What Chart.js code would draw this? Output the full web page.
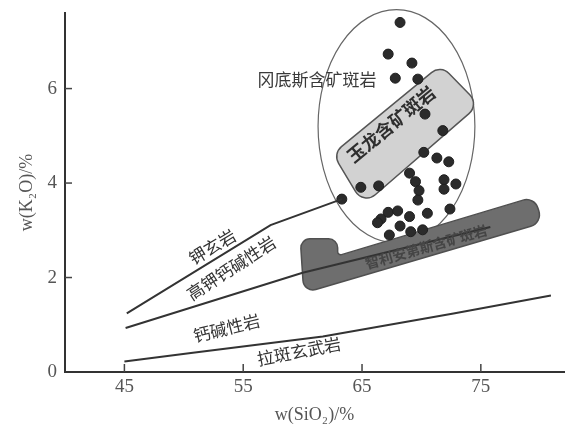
<!DOCTYPE html>
<html>
<head>
<meta charset="utf-8">
<script src="https://cdn.jsdelivr.net/npm/chart.js@4/dist/chart.umd.min.js"></script>
<style>
  body { margin: 0; background: #fff; }
  #k2oChart { display: block; }
</style>
</head>
<body>
<canvas id="k2oChart" width="570" height="430"></canvas>
<script>
// sample points, w(SiO2) / w(K2O)
var siO2 = [68.2, 67.2, 69.2, 67.8, 69.7, 70.3, 71.8, 70.2, 71.3, 72.3,
            69.0, 69.5, 71.9, 72.9, 64.9, 66.4, 69.8, 71.9, 69.7, 63.3,
            72.4, 70.5, 67.2, 68.0, 66.6, 66.3, 69.0, 68.2, 67.3, 69.1, 70.1];
var k2O  = [7.40, 6.73, 6.54, 6.22, 6.20, 5.46, 5.11, 4.65, 4.53, 4.45,
            4.21, 4.03, 4.07, 3.98, 3.91, 3.94, 3.84, 3.87, 3.64, 3.66,
            3.45, 3.36, 3.38, 3.41, 3.24, 3.16, 3.29, 3.09, 2.90, 2.97, 3.01];

// boundary lines
var shoshoniteX = [45.2, 57.3, 63.3];
var shoshoniteY = [1.24, 3.11, 3.66];
var highKX = [45.1, 60.0, 75.8];
var highKY = [0.93, 2.10, 3.07];
var tholeiiteX = [45.0, 50.6, 61.7, 72.7, 80.9];
var tholeiiteY = [0.22, 0.40, 0.75, 1.24, 1.62];

// fields
var gangdeseCenter = [67.9, 5.2];
var gangdeseRadius = [6.6, 2.47];
var yulongX = [62.54, 71.62, 74.88, 65.13];
var yulongY = [4.62, 6.50, 5.66, 3.54];
var andesX = [59.8, 62.95, 62.95, 79.5, 80.2, 60.1];
var andesY = [2.82, 2.82, 2.46, 3.71, 3.16, 1.67];

var xTicks = [45, 55, 65, 75];
var yTicks = [0, 2, 4, 6];

function pairs(xs, ys) {
  return xs.map(function(x, i) { return {x: x, y: ys[i]}; });
}

function roundedPoly(ctx, pts, radii) {
  var n = pts.length;
  var start = {x: (pts[n - 1].x + pts[0].x) / 2, y: (pts[n - 1].y + pts[0].y) / 2};
  ctx.beginPath();
  ctx.moveTo(start.x, start.y);
  for (var i = 0; i < n; i++) {
    var p = pts[i], q = pts[(i + 1) % n];
    ctx.arcTo(p.x, p.y, q.x, q.y, radii[i]);
  }
  ctx.closePath();
}

var labels = [
  {text: '冈底斯含矿斑岩', x: 61.2, y: 6.19, angle: 0, size: 17, color: '#3a3a3a'},
  {text: '玉龙含矿斑岩', x: 67.45, y: 5.25, angle: -39.5, size: 18, color: '#2e2e2e', weight: 'bold'},
  {text: '智利安第斯含矿斑岩', x: 70.4, y: 2.65, angle: -16, size: 14, color: '#454545', weight: 'bold'},
  {text: '钾玄岩', x: 52.4, y: 2.65, angle: -31, size: 17, color: '#333'},
  {text: '高钾钙碱性岩', x: 54.0, y: 2.2, angle: -33, size: 17, color: '#333'},
  {text: '钙碱性岩', x: 53.6, y: 0.93, angle: -14, size: 17, color: '#333'},
  {text: '拉斑玄武岩', x: 59.7, y: 0.44, angle: -11, size: 17, color: '#333'}
];

var fieldsPlugin = {
  id: 'fields',
  beforeDatasetsDraw: function(chart) {
    var ctx = chart.ctx, xs = chart.scales.x, ys = chart.scales.y;
    ctx.save();
    // Gangdese ellipse
    var cx = xs.getPixelForValue(gangdeseCenter[0]);
    var cy = ys.getPixelForValue(gangdeseCenter[1]);
    var rx = xs.getPixelForValue(gangdeseCenter[0] + gangdeseRadius[0]) - cx;
    var ry = cy - ys.getPixelForValue(gangdeseCenter[1] + gangdeseRadius[1]);
    ctx.beginPath();
    ctx.ellipse(cx, cy, rx, ry, 0, 0, Math.PI * 2);
    ctx.strokeStyle = '#666';
    ctx.lineWidth = 1.2;
    ctx.stroke();

    // Yulong box
    var yl = pairs(yulongX, yulongY).map(function(p) {
      return {x: xs.getPixelForValue(p.x), y: ys.getPixelForValue(p.y)};
    });
    roundedPoly(ctx, yl, [13, 13, 13, 13]);
    ctx.fillStyle = '#d2d2d2';
    ctx.fill();
    ctx.strokeStyle = '#555';
    ctx.lineWidth = 1.5;
    ctx.stroke();

    // Andes band
    var an = pairs(andesX, andesY).map(function(p) {
      return {x: xs.getPixelForValue(p.x), y: ys.getPixelForValue(p.y)};
    });
    roundedPoly(ctx, an, [9, 9, 3, 12, 12, 10]);
    ctx.fillStyle = '#6e6e6e';
    ctx.fill();
    ctx.strokeStyle = '#505050';
    ctx.lineWidth = 1.5;
    ctx.stroke();
    ctx.restore();
  },
  afterDatasetsDraw: function(chart) {
    var ctx = chart.ctx, xs = chart.scales.x, ys = chart.scales.y;
    ctx.save();
    labels.forEach(function(l) {
      ctx.save();
      ctx.translate(xs.getPixelForValue(l.x), ys.getPixelForValue(l.y));
      ctx.rotate(l.angle * Math.PI / 180);
      ctx.font = (l.weight || 'normal') + ' ' + l.size + 'px "Noto Sans CJK SC"';
      ctx.fillStyle = l.color;
      ctx.textAlign = 'center';
      ctx.textBaseline = 'middle';
      ctx.fillText(l.text, 0, 0);
      ctx.restore();
    });
    // inward tick marks
    ctx.strokeStyle = '#444';
    ctx.lineWidth = 1.5;
    xTicks.forEach(function(v) {
      var px = xs.getPixelForValue(v);
      ctx.beginPath();
      ctx.moveTo(px, ys.bottom);
      ctx.lineTo(px, ys.bottom - 8);
      ctx.stroke();
    });
    yTicks.slice(1).forEach(function(v) {
      var py = ys.getPixelForValue(v);
      ctx.beginPath();
      ctx.moveTo(xs.left, py);
      ctx.lineTo(xs.left + 7, py);
      ctx.stroke();
    });
    ctx.restore();
  }
};

var lineStyle = {
  showLine: true,
  pointRadius: 0,
  borderColor: '#333',
  borderWidth: 2,
  fill: false
};

var ctx = document.getElementById('k2oChart').getContext('2d');
new Chart(ctx, {
  type: 'scatter',
  data: {
    datasets: [
      Object.assign({label: 'shoshonite', data: pairs(shoshoniteX, shoshoniteY)}, lineStyle),
      Object.assign({label: 'high-K', data: pairs(highKX, highKY)}, lineStyle),
      Object.assign({label: 'tholeiite', data: pairs(tholeiiteX, tholeiiteY)}, lineStyle),
      {
        label: 'samples',
        data: pairs(siO2, k2O),
        pointRadius: 5,
        pointBackgroundColor: '#2b2b2b',
        pointBorderColor: '#1e1e1e',
        pointBorderWidth: 1
      }
    ]
  },
  options: {
    responsive: false,
    animation: false,
    devicePixelRatio: 1,
    layout: {padding: {top: 13, right: 0, left: 0, bottom: 0}},
    plugins: {legend: {display: false}, tooltip: {enabled: false}},
    scales: {
      x: {
        type: 'linear',
        min: 40,
        max: 82,
        afterBuildTicks: function(s) { s.ticks = xTicks.map(function(v) { return {value: v}; }); },
        afterFit: function(s) { s.height = 58; s.paddingLeft = 0; s.paddingRight = 0; },
        grid: {drawOnChartArea: false, drawTicks: false},
        border: {display: true, color: '#333', width: 2},
        ticks: {
          padding: 4,
          color: '#555',
          font: {family: 'Liberation Serif', size: 19}
        },
        title: {
          display: true,
          text: 'w(SiO₂)/%',
          color: '#555',
          font: {family: 'Liberation Serif', size: 18},
          padding: {top: 0, bottom: 4}
        }
      },
      y: {
        type: 'linear',
        min: 0,
        max: 7.6,
        afterBuildTicks: function(s) { s.ticks = yTicks.map(function(v) { return {value: v}; }); },
        afterFit: function(s) { s.width = 65; s.paddingTop = 0; s.paddingBottom = 0; },
        grid: {drawOnChartArea: false, drawTicks: false},
        border: {display: true, color: '#333', width: 2},
        ticks: {
          padding: 8,
          color: '#555',
          font: {family: 'Liberation Serif', size: 19}
        },
        title: {
          display: true,
          text: 'w(K₂O)/%',
          color: '#555',
          font: {family: 'Liberation Serif', size: 18},
          padding: {top: 16, bottom: 0}
        }
      }
    }
  },
  plugins: [fieldsPlugin]
});
</script>
</body>
</html>
